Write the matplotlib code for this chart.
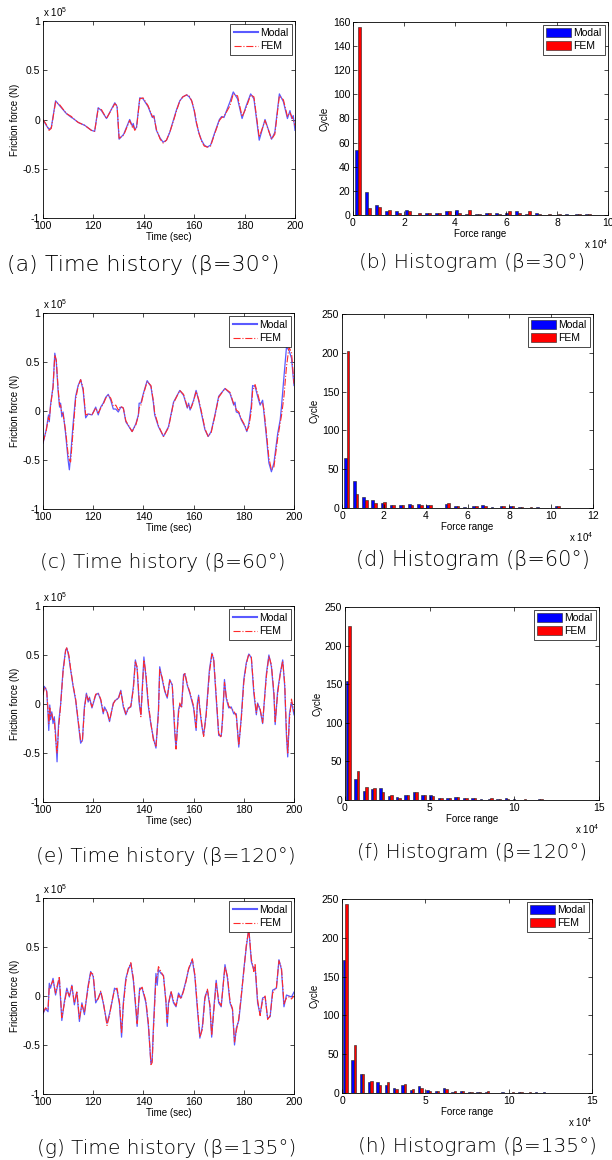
import numpy as np
import matplotlib
matplotlib.use('Agg')
import matplotlib.pyplot as plt

plt.rcParams['font.family'] = ['Liberation Sans', 'DejaVu Sans']
plt.rcParams['mathtext.default'] = 'regular'

# ---- time histories (force in units of 1e5 N) ----
t_a = [100, 101.3, 102.4, 103.3, 105, 106.6, 109.3, 111.3, 112, 114,
       116.6, 119.2, 120.5, 121.9, 123.2, 125.2, 128.5, 129.4, 130.2, 132,
       134.4, 135.5, 135.8, 136.4, 137.1, 138.4, 139.7, 141.7, 143.4, 144,
       145, 146.5, 147.7, 149, 150.3, 151.7, 153, 154.3, 155.5, 157,
       158, 159, 160, 160.9, 161.9, 162.9, 164, 165.2, 166.5, 168.2,
       170, 170.9, 171.8, 174.2, 175.5, 177.2, 179, 180.5, 182.4, 183.7,
       185.8, 188.1, 190.7, 192, 193.8, 195.4, 197, 198, 198.7, 199.3,
       200]
modal_a = [0.0, -0.06, -0.1, -0.08, 0.19, 0.14, 0.06, 0.02, 0.01, -0.03,
           -0.06, -0.11, -0.12, 0.12, 0.09, 0.01, 0.17, 0.13, -0.2, -0.15,
           0.0, -0.07, -0.04, -0.1, -0.08, 0.22, 0.21, 0.13, 0.02, 0.04,
           -0.11, -0.19, -0.23, -0.21, -0.13, -0.01, 0.1, 0.19, 0.23, 0.25,
           0.23, 0.19, 0.09, -0.04, -0.14, -0.21, -0.26, -0.28, -0.26, -0.13,
           0.0, 0.03, 0.02, 0.18, 0.28, 0.21, 0.01, 0.13, 0.26, 0.21,
           -0.21, 0.0, -0.2, -0.13, 0.26, 0.18, 0.01, 0.09, 0.01, 0.04,
           -0.11]
fem_a = [0.0, -0.05, -0.11, -0.09, 0.18, 0.15, 0.06, 0.03, 0.01, -0.03,
         -0.06, -0.11, -0.12, 0.11, 0.1, 0.01, 0.16, 0.14, -0.19, -0.16,
         -0.01, -0.08, -0.06, -0.11, -0.09, 0.21, 0.22, 0.14, 0.03, 0.03,
         -0.1, -0.2, -0.24, -0.21, -0.13, -0.02, 0.09, 0.19, 0.23, 0.25,
         0.24, 0.19, 0.1, -0.03, -0.14, -0.22, -0.27, -0.28, -0.27, -0.14,
         -0.01, 0.02, 0.03, 0.14, 0.26, 0.24, 0.03, 0.11, 0.25, 0.23,
         -0.18, -0.01, -0.2, -0.15, 0.24, 0.2, 0.03, 0.07, 0.03, 0.0,
         -0.06]

t_c = [100, 101.3, 102.2, 102.5, 103, 104, 104.7, 105.3, 106, 106.6,
       107, 107.5, 108, 109, 110, 110.5, 111, 112, 113, 114,
       115, 116, 117, 118, 119.5, 121, 122, 123, 124, 125,
       126, 127, 128, 129, 130, 131, 132, 133, 135.5, 137,
       138, 138.3, 139, 140, 141.5, 143, 144, 144.5, 146, 148,
       150, 152, 154.5, 156, 157.5, 158, 158.6, 159, 160, 161,
       162, 163.5, 164.5, 165.8, 167, 168.5, 170, 172.5, 174.5, 176,
       176.5, 177, 178, 179, 180.5, 181.2, 182, 183, 183.5, 184.5,
       185.5, 186.5, 187.5, 188, 189, 190, 191, 192, 193.5, 194.5,
       195, 196, 197, 198, 199, 200]
modal_c = [-0.33, -0.19, -0.04, -0.11, 0.06, 0.25, 0.59, 0.5, 0.21, 0.04,
           0.08, -0.06, -0.01, -0.23, -0.5, -0.6, -0.46, -0.13, 0.15, 0.26,
           0.32, 0.21, -0.07, -0.03, -0.04, 0.04, -0.04, 0.04, 0.08, 0.14,
           0.17, 0.11, 0.02, 0.02, -0.01, 0.04, 0.03, -0.11, -0.21, -0.13,
           -0.04, 0.08, 0.08, 0.18, 0.31, 0.25, 0.08, -0.04, -0.16, -0.26,
           -0.16, 0.09, 0.21, 0.16, 0.03, 0.08, 0.01, 0.04, 0.11, 0.21,
           0.11, -0.07, -0.19, -0.26, -0.21, -0.04, 0.15, 0.23, 0.18, 0.06,
           0.09, -0.01, -0.02, -0.09, -0.16, -0.21, -0.13, 0.06, 0.26, 0.25,
           0.15, 0.06, 0.11, -0.01, -0.26, -0.53, -0.62, -0.53, -0.23, -0.09,
           0.04, 0.35, 0.65, 0.62, 0.54, 0.26]
fem_c = [-0.32, -0.2, -0.06, -0.09, 0.05, 0.24, 0.57, 0.52, 0.24, 0.06,
         0.06, -0.02, -0.03, -0.2, -0.44, -0.5, -0.52, -0.2, 0.12, 0.25,
         0.32, 0.23, -0.04, -0.03, -0.04, 0.03, -0.02, 0.03, 0.07, 0.13,
         0.16, 0.13, 0.05, 0.06, 0.01, 0.05, 0.03, -0.1, -0.21, -0.14,
         -0.05, 0.03, 0.06, 0.17, 0.3, 0.26, 0.1, -0.02, -0.15, -0.26,
         -0.17, 0.08, 0.21, 0.17, 0.04, 0.06, 0.03, 0.03, 0.1, 0.2,
         0.12, -0.05, -0.18, -0.26, -0.22, -0.05, 0.14, 0.23, 0.19, 0.07,
         0.06, 0.01, -0.01, -0.08, -0.15, -0.2, -0.16, 0.0, 0.2, 0.27,
         0.18, 0.08, 0.08, 0.02, -0.22, -0.48, -0.6, -0.57, -0.28, -0.12,
         -0.05, 0.15, 0.45, 0.65, 0.6, 0.28]

t_e = [100, 100.5, 101, 101.5, 102, 102.3, 102.7, 103, 103.5, 104,
       104.5, 105, 105.6, 106.2, 107, 108, 109, 109.5, 110.3, 111,
       112, 113, 114, 115, 115.7, 116.5, 117.3, 118, 118.5, 119.5,
       121, 122, 123, 124, 124.5, 125.5, 126.5, 128, 129, 130,
       131, 132, 133, 134, 135, 136, 136.8, 137.5, 138.3, 139,
       139.5, 140.2, 141, 142, 143, 144, 145, 146, 146.5, 147.5,
       148.5, 149.5, 150.5, 151.5, 152.5, 153, 154, 154.5, 155.2, 156,
       156.5, 157.5, 158.5, 160, 161, 161.5, 162, 162.5, 163.3, 164,
       165, 166.3, 167.3, 168, 169, 170, 171, 171.5, 172.3, 173,
       174, 175, 176, 177, 178, 179, 180, 181, 182, 183,
       184, 185, 185.5, 186.5, 187.5, 189, 190, 191, 192, 192.5,
       193.5, 194.5, 195.5, 196.3, 197, 197.5, 198.2, 199, 200]
modal_e = [0.11, 0.18, 0.16, 0.13, -0.1, -0.27, -0.01, -0.16, -0.08, -0.2,
           -0.13, -0.3, -0.59, -0.2, -0.01, 0.35, 0.55, 0.57, 0.48, 0.35,
           0.18, 0.04, -0.18, -0.4, -0.37, -0.03, 0.11, 0.02, 0.07, -0.04,
           0.09, 0.11, 0.04, -0.1, -0.03, -0.08, -0.18, 0.01, 0.04, 0.06,
           0.14, -0.03, -0.11, -0.04, -0.03, 0.18, 0.45, 0.36, 0.01, -0.11,
           0.14, 0.48, 0.28, -0.03, -0.21, -0.35, -0.45, -0.06, 0.38, 0.25,
           0.13, 0.06, 0.25, 0.19, -0.3, -0.45, -0.06, -0.01, -0.03, 0.3,
           0.31, 0.19, 0.11, -0.04, -0.27, 0.01, 0.09, -0.06, -0.23, -0.32,
           -0.1, 0.35, 0.52, 0.45, 0.06, -0.32, -0.33, -0.16, 0.25, 0.06,
           -0.04, -0.03, -0.1, -0.1, -0.44, -0.13, 0.25, 0.42, 0.51, 0.47,
           0.11, -0.11, 0.01, -0.06, -0.2, 0.31, 0.5, 0.38, 0.09, -0.21,
           0.14, 0.31, 0.45, 0.18, -0.33, -0.54, -0.1, 0.02, -0.11]
fem_e = [0.09, 0.16, 0.17, 0.12, -0.06, -0.2, -0.04, -0.12, -0.1, -0.16,
         -0.15, -0.35, -0.5, -0.25, -0.02, 0.33, 0.54, 0.58, 0.5, 0.36,
         0.19, 0.05, -0.16, -0.38, -0.38, -0.05, 0.1, 0.04, 0.06, -0.03,
         0.1, 0.11, 0.05, -0.08, -0.05, -0.07, -0.17, 0.0, 0.05, 0.05,
         0.13, -0.01, -0.1, -0.05, -0.02, 0.15, 0.43, 0.38, 0.05, -0.13,
         0.1, 0.45, 0.31, 0.0, -0.2, -0.37, -0.43, -0.1, 0.35, 0.27,
         0.14, 0.07, 0.24, 0.2, -0.25, -0.46, -0.1, 0.01, -0.04, 0.27,
         0.32, 0.2, 0.12, -0.02, -0.24, -0.02, 0.07, -0.04, -0.21, -0.33,
         -0.12, 0.32, 0.51, 0.47, 0.09, -0.3, -0.34, -0.18, 0.22, 0.08,
         -0.02, -0.05, -0.07, -0.12, -0.42, -0.16, 0.22, 0.41, 0.51, 0.48,
         0.14, -0.09, 0.0, -0.05, -0.19, 0.28, 0.49, 0.4, 0.12, -0.18,
         0.11, 0.3, 0.44, 0.21, -0.28, -0.5, -0.15, 0.05, -0.08]

t_g = [100, 101, 102, 102.5, 103, 104, 105, 106.5, 107.5, 108.5,
       109.5, 110.5, 111.5, 112.5, 113.5, 114.5, 115.5, 116.5, 118, 119,
       120, 121, 122, 123, 124, 125.5, 126.5, 127.5, 128.5, 129.5,
       130.5, 131.3, 132, 133, 134, 135, 136, 137, 137.5, 138.5,
       139.5, 141, 142, 143, 143.5, 144, 145, 145.5, 146, 147,
       148, 149, 149.5, 150, 151, 152, 153, 154, 155, 156,
       157, 158, 159.5, 160.5, 161.5, 162.5, 163.5, 164.5, 165.5, 166.5,
       167.2, 168, 169, 170, 171, 172.5, 173.5, 174.5, 175.5, 176.3,
       177, 178, 179, 180, 181, 182, 183, 184, 184.5, 185.5,
       186.5, 187.5, 188.5, 189.5, 190.5, 191.5, 193, 194, 195, 196,
       197, 198, 199, 200]
modal_g = [-0.18, -0.13, -0.16, 0.13, 0.08, 0.18, 0.01, 0.18, -0.25, -0.06,
           0.08, -0.01, 0.11, -0.09, 0.04, -0.26, -0.07, -0.19, 0.11, 0.25,
           0.2, -0.07, -0.02, 0.04, -0.07, -0.28, -0.18, -0.06, 0.08, 0.06,
           -0.09, -0.42, -0.07, 0.18, 0.27, 0.33, 0.16, -0.14, -0.31, 0.08,
           0.08, -0.07, -0.31, -0.69, -0.65, -0.31, 0.23, 0.11, 0.27, 0.23,
           0.21, -0.07, -0.31, -0.07, 0.04, -0.07, -0.11, 0.03, -0.02, 0.06,
           0.16, 0.27, 0.37, 0.2, -0.13, -0.43, -0.31, -0.01, 0.06, -0.11,
           -0.42, -0.14, 0.16, -0.07, -0.11, 0.32, 0.18, -0.07, -0.14, -0.5,
           -0.33, -0.25, -0.01, 0.27, 0.5, 0.69, 0.35, 0.27, 0.3, -0.07,
           -0.19, -0.02, -0.01, -0.23, -0.21, 0.06, 0.08, 0.37, 0.27, -0.11,
           0.01, 0.0, -0.01, 0.04]
fem_g = [-0.17, -0.12, -0.14, 0.1, 0.1, 0.16, 0.03, 0.2, -0.22, -0.08,
         0.06, 0.0, 0.1, -0.07, 0.05, -0.23, -0.09, -0.17, 0.09, 0.24,
         0.22, -0.05, -0.03, 0.05, -0.06, -0.3, -0.2, -0.05, 0.06, 0.08,
         -0.07, -0.38, -0.1, 0.15, 0.28, 0.34, 0.18, -0.11, -0.28, 0.06,
         0.09, -0.05, -0.28, -0.7, -0.68, -0.35, 0.18, 0.2, 0.3, 0.25,
         0.2, -0.05, -0.27, -0.09, 0.05, -0.05, -0.1, 0.01, -0.03, 0.05,
         0.15, 0.28, 0.38, 0.22, -0.1, -0.42, -0.34, -0.03, 0.07, -0.09,
         -0.4, -0.17, 0.13, -0.05, -0.1, 0.3, 0.2, -0.05, -0.13, -0.47,
         -0.36, -0.23, 0.01, 0.25, 0.52, 0.68, 0.38, 0.25, 0.32, -0.04,
         -0.2, -0.04, 0.0, -0.24, -0.2, 0.03, 0.09, 0.36, 0.29, -0.08,
         -0.02, -0.01, -0.03, 0.0]

# ---- histograms of force range (x in units of 1e4 N) ----
# first bin centre, bin spacing
bins_b = (0.21, 0.392)
bins_d = (0.22, 0.438)
bins_f = (0.20, 0.493)
bins_h = (0.20, 0.50)
modal_b = [54, 19, 8, 3, 3, 4, 0, 2, 2, 3, 4, 1, 1, 2, 2, 2, 3, 1, 2, 0, 0, 1, 1, 1]
fem_b = [156, 6, 7, 4, 2, 3, 2, 2, 2, 3, 2, 4, 1, 2, 1, 3, 2, 3, 1, 1, 1, 0, 1, 1]
modal_d = [65, 35, 14, 10, 6, 4, 4, 5, 5, 4, 0, 5, 3, 1, 3, 4, 1, 2, 3, 1, 0, 1, 0, 2]
fem_d = [202, 18, 10, 6, 8, 4, 4, 4, 4, 4, 0, 6, 3, 0, 3, 3, 0, 3, 2, 1, 1, 0, 0, 2]
modal_f = [154, 27, 12, 14, 15, 5, 4, 6, 10, 7, 7, 2, 3, 4, 3, 3, 1, 1, 1, 2, 1, 0, 0, 1]
fem_f = [225, 37, 17, 15, 11, 7, 2, 6, 10, 7, 5, 3, 3, 4, 3, 3, 0, 2, 1, 1, 0, 1, 0, 1]
modal_h = [171, 42, 25, 14, 14, 10, 6, 10, 4, 9, 4, 2, 6, 1, 3, 1, 1, 1, 0, 1, 0, 1, 0, 1, 1]
fem_h = [243, 62, 24, 15, 10, 14, 5, 11, 5, 6, 3, 3, 5, 3, 3, 1, 1, 2, 0, 0, 1, 1, 1, 0, 0]

captions_left = ['(a) Time history (β=30°)', '(c) Time history (β=60°)',
                 '(e) Time history (β=120°)', '(g) Time history (β=135°)']
captions_right = ['(b) Histogram (β=30°)', '(d) Histogram (β=60°)',
                  '(f) Histogram (β=120°)', '(h) Histogram (β=135°)']

W, H = 612, 1160
fig = plt.figure(figsize=(W / 100, H / 100), dpi=100)


def box(l, t, r, b):
    return fig.add_axes([l / W, 1 - b / H, (r - l) / W, (b - t) / H])


def style(ax):
    ax.tick_params(direction='in', top=True, right=True, length=3,
                   width=0.5, labelsize=7.5, pad=2)
    for s in ax.spines.values():
        s.set_linewidth(0.6)


def time_panel(ax, t, modal, fem):
    style(ax)
    ax.plot(t, modal, color='#5a5aff', lw=0.9, label='Modal')
    ax.plot(t, fem, color='#ff2a2a', lw=0.8, ls='-.', label='FEM')
    ax.set_xlim(100, 200)
    ax.set_ylim(-1, 1)
    ax.set_xticks([100, 120, 140, 160, 180, 200])
    ax.set_yticks([-1, -0.5, 0, 0.5, 1])
    ax.set_yticklabels(['-1', '-0.5', '0', '0.5', '1'])
    ax.set_xlabel('Time (sec)', fontsize=7, labelpad=1)
    ax.set_ylabel('Friction force (N)', fontsize=7, labelpad=2)
    ax.text(0, 1.012, r'x 10$^{5}$', transform=ax.transAxes,
            fontsize=7, va='bottom', ha='left')
    leg = ax.legend(loc='upper right', fontsize=7.5, fancybox=False,
                    framealpha=1, edgecolor='black', borderaxespad=0.3,
                    handlelength=2.3, handletextpad=0.2, labelspacing=0.35,
                    borderpad=0.35)
    leg.get_frame().set_linewidth(0.5)
    leg.get_lines()[0].set_linewidth(1.5)


def hist_panel(ax, bins, modal, fem, xmax, xstep, ymax, ystep):
    style(ax)
    start, step = bins
    centers = start + step * np.arange(len(modal))
    w = 0.29 * step
    ax.bar(centers - w / 2, modal, width=w, color='#0000ff', edgecolor='#202020',
           lw=0.4, label='Modal')
    ax.bar(centers + w / 2, fem, width=w, color='#ff0000', edgecolor='#202020',
           lw=0.4, label='FEM')
    ax.set_xlim(0, xmax)
    ax.set_ylim(0, ymax)
    ax.set_xticks(np.arange(0, xmax + 0.01, xstep))
    ax.set_yticks(np.arange(0, ymax + 0.01, ystep))
    ax.set_xlabel('Force range', fontsize=7, labelpad=1)
    ax.set_ylabel('Cycle', fontsize=7, labelpad=2)
    ax.text(1.0, -0.115, r'x 10$^{4}$', transform=ax.transAxes,
            fontsize=7, va='top', ha='right')
    leg = ax.legend(loc='upper right', fontsize=7.5, fancybox=False,
                    framealpha=1, edgecolor='black', borderaxespad=0.3,
                    handlelength=2.4, handleheight=0.9, handletextpad=0.2,
                    labelspacing=0.3, borderpad=0.3)
    leg.get_frame().set_linewidth(0.5)


ax_a = box(43, 21, 295, 218)
ax_b = box(353, 22, 608, 215)
ax_c = box(43, 313, 294, 509)
ax_d = box(342, 314, 593, 508)
ax_e = box(43, 606, 294, 802)
ax_f = box(345, 607, 599, 800)
ax_g = box(43, 898, 294, 1094)
ax_h = box(342, 899, 592, 1093)

time_panel(ax_a, t_a, modal_a, fem_a)
time_panel(ax_c, t_c, modal_c, fem_c)
time_panel(ax_e, t_e, modal_e, fem_e)
time_panel(ax_g, t_g, modal_g, fem_g)

hist_panel(ax_b, bins_b, modal_b, fem_b, 10, 2, 160, 20)
hist_panel(ax_d, bins_d, modal_d, fem_d, 12, 2, 250, 50)
hist_panel(ax_f, bins_f, modal_f, fem_f, 15, 5, 250, 50)
hist_panel(ax_h, bins_h, modal_h, fem_h, 15, 5, 250, 50)

cap_font = ['DejaVu Sans']
left_pos = [(143, 265, 16), (163, 563, 14.5), (166, 857, 14.5), (167, 1149, 14.5)]
right_pos = [(472, 263, 14.5), (473, 560, 15), (472, 852, 14.3), (477, 1146, 14.5)]
for txt, (x, y, fs) in zip(captions_left + captions_right, left_pos + right_pos):
    fig.text(x / W, 1 - y / H, txt, ha='center', va='center',
             fontsize=fs, family=cap_font, fontweight='light')

fig.savefig('out.png', dpi=100)
